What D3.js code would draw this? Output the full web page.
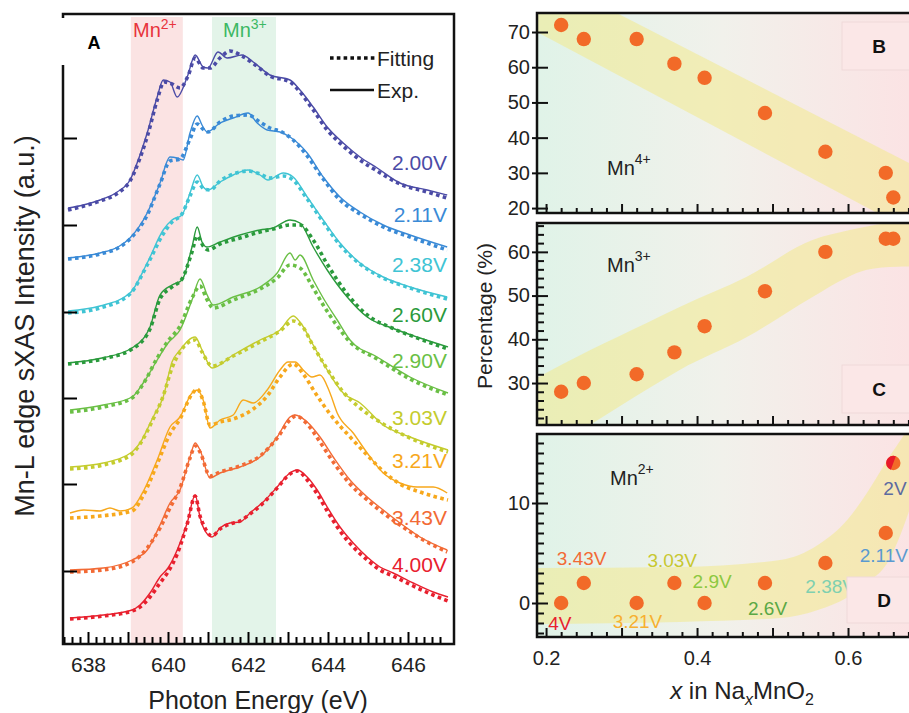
<!DOCTYPE html>
<html><head><meta charset="utf-8">
<script src="https://cdn.jsdelivr.net/npm/d3@7"></script>
<style>body{margin:0;background:#fff}svg{display:block}text{font-family:"Liberation Sans",Arial,Helvetica,sans-serif}</style>
</head><body><svg id="c" width="909" height="713"></svg>
<script>
// ---------------- DATA ----------------
const voltages = ['2.00V','2.11V','2.38V','2.60V','2.90V','3.03V','3.21V','3.43V','4.00V'];
const specColors = ['#4b4ba6','#3a8ad6','#40c4d4','#2a9a3c','#6abf45','#c4cc2e','#f7a81c','#f26a35','#e8202e'];
const energyTicks = [638,640,642,644,646];
const intensityTicks = [7.3,16.0,24.6,33.2,41.9,50.6];
const mn2Band = [639.07,640.37];
const mn3Band = [641.1,642.7];

const exp_200 = [[637.5,43.6],[637.88,43.9],[638.3,44.4],[638.73,45.2],[639.05,46.4],[639.3,48.9],[639.48,51.1],[639.73,54.7],[639.88,56.4],[640.05,56.2],[640.23,54.7],[640.48,56.7],[640.68,58.9],[640.88,57.7],[641.0,57.6],[641.25,59.2],[641.48,58.6],[641.85,58.9],[642.13,58.2],[642.55,56.9],[643.05,56.4],[643.3,55.4],[643.63,53.7],[643.98,51.7],[644.38,50.1],[644.8,48.7],[645.23,47.6],[645.8,46.1],[646.48,45.4],[646.98,44.9]];
const fit_200 = [[637.5,43.4],[637.9,43.8],[638.3,44.3],[638.75,45.1],[639.05,46.3],[639.3,48.6],[639.5,51.0],[639.73,54.4],[639.9,56.2],[640.1,56.0],[640.3,55.6],[640.5,56.8],[640.68,58.6],[640.88,57.6],[641.05,57.6],[641.3,58.6],[641.55,59.3],[641.85,58.8],[642.15,58.0],[642.55,56.8],[643.05,56.2],[643.3,55.2],[643.63,53.4],[643.98,51.4],[644.38,49.8],[644.8,48.4],[645.23,47.3],[645.8,46.0],[646.48,45.2],[646.98,44.6]];
const exp_211 = [[637.5,38.6],[638.3,39.1],[638.75,39.7],[639.05,40.6],[639.48,43.1],[639.8,46.1],[640.05,48.7],[640.23,48.6],[640.38,48.4],[640.55,51.1],[640.73,52.8],[640.85,51.9],[640.98,51.2],[641.3,52.1],[641.63,52.6],[642.0,53.1],[642.23,52.1],[642.48,51.4],[642.8,51.2],[643.05,50.7],[643.48,49.1],[643.88,46.7],[644.3,44.7],[644.8,43.2],[645.38,41.9],[646.05,40.9],[646.98,39.7]];
const fit_211 = [[637.5,38.5],[638.3,39.0],[638.75,39.6],[639.05,40.5],[639.48,42.9],[639.8,46.0],[640.05,48.3],[640.3,48.5],[640.55,50.5],[640.73,52.0],[640.9,51.4],[641.0,51.2],[641.3,52.2],[641.63,52.8],[642.0,52.9],[642.3,52.2],[642.55,51.6],[642.85,51.2],[643.1,50.5],[643.48,48.8],[643.88,46.5],[644.3,44.4],[644.8,43.0],[645.38,41.7],[646.05,40.7],[646.98,39.4]];
const exp_238 = [[637.5,33.3],[638.3,33.8],[639.05,35.1],[639.48,38.1],[639.88,41.4],[640.1,42.4],[640.35,42.9],[640.55,45.1],[640.73,46.9],[640.88,45.7],[641.0,45.4],[641.3,46.2],[641.63,46.9],[642.0,47.4],[642.3,46.9],[642.5,46.4],[642.88,47.1],[643.13,46.7],[643.48,44.7],[643.88,42.4],[644.3,40.1],[644.8,38.1],[645.38,36.7],[646.05,35.7],[646.98,34.7]];
const fit_238 = [[637.5,33.1],[638.3,33.6],[639.05,35.0],[639.48,37.9],[639.88,41.0],[640.1,42.2],[640.35,43.0],[640.55,44.8],[640.73,46.2],[640.9,45.5],[641.05,45.4],[641.3,46.3],[641.63,47.0],[642.0,47.3],[642.3,47.0],[642.55,46.6],[642.88,46.8],[643.13,46.4],[643.48,44.5],[643.88,42.2],[644.3,39.9],[644.8,38.0],[645.38,36.6],[646.05,35.6],[646.98,34.5]];
const exp_260 = [[637.5,28.1],[638.35,28.6],[639.1,29.6],[639.55,31.7],[639.8,34.9],[640.1,35.9],[640.35,36.4],[640.6,39.7],[640.73,41.7],[640.85,40.2],[640.97,39.7],[641.3,40.2],[641.8,40.9],[642.3,41.4],[642.63,41.6],[643.05,42.4],[643.3,42.1],[643.63,39.7],[643.98,37.4],[644.48,34.7],[644.98,32.7],[645.6,31.6],[646.3,30.6],[647.0,29.7]];
const fit_260 = [[637.5,28.0],[638.35,28.5],[639.1,29.5],[639.55,31.5],[639.8,34.5],[640.1,35.7],[640.35,36.5],[640.6,39.2],[640.73,40.8],[640.88,39.8],[641.0,39.4],[641.3,40.0],[641.8,40.6],[642.3,41.2],[642.63,41.5],[643.05,41.9],[643.3,41.9],[643.63,40.4],[643.98,38.0],[644.48,35.0],[644.98,32.9],[645.6,31.6],[646.3,30.5],[647.0,29.5]];
const exp_290 = [[637.55,23.4],[638.38,23.9],[639.1,24.7],[639.38,26.1],[639.73,28.4],[640.0,30.1],[640.3,31.4],[640.6,34.4],[640.8,36.5],[640.98,34.9],[641.13,33.9],[641.63,34.7],[642.3,35.7],[642.73,37.1],[643.05,39.1],[643.18,38.4],[643.3,38.9],[643.63,36.4],[643.88,34.6],[644.23,32.4],[644.55,30.4],[645.23,28.7],[646.05,26.7],[647.0,25.1]];
const fit_290 = [[637.55,23.2],[638.38,23.7],[639.1,24.6],[639.38,26.0],[639.73,28.6],[640.0,30.3],[640.3,31.8],[640.6,34.6],[640.8,35.8],[640.98,34.4],[641.13,33.6],[641.63,34.4],[642.3,35.5],[642.73,36.6],[643.05,37.9],[643.3,37.6],[643.63,35.6],[643.88,33.9],[644.23,31.8],[644.55,30.2],[645.23,28.5],[646.05,26.5],[647.0,24.9]];
const exp_303 = [[637.55,17.7],[638.38,18.1],[639.1,19.2],[639.3,20.1],[639.63,22.7],[639.88,24.7],[640.1,28.2],[640.3,29.4],[640.68,30.7],[640.85,29.4],[641.1,27.6],[641.63,28.9],[642.3,30.4],[642.8,31.4],[643.13,32.8],[643.3,32.2],[643.63,29.9],[643.98,27.4],[644.38,25.1],[644.8,24.1],[645.38,21.9],[646.05,20.7],[647.0,19.4]];
const fit_303 = [[637.55,17.5],[638.38,17.9],[639.1,19.0],[639.3,20.0],[639.63,22.5],[639.88,24.8],[640.1,27.6],[640.3,29.2],[640.68,30.4],[640.85,29.2],[641.1,27.8],[641.63,28.8],[642.3,30.2],[642.8,31.3],[643.13,32.3],[643.35,31.8],[643.63,29.8],[643.98,27.5],[644.38,25.2],[644.8,23.6],[645.38,22.0],[646.05,20.6],[647.0,19.2]];
const exp_321 = [[637.55,13.1],[637.9,13.4],[638.3,13.3],[638.55,13.6],[638.8,13.3],[639.1,13.6],[639.4,15.4],[639.73,18.4],[640.05,21.7],[640.3,22.7],[640.6,25.1],[640.73,25.4],[640.88,24.4],[641.05,21.6],[641.3,22.4],[641.63,22.9],[641.88,24.4],[642.13,24.1],[642.48,25.4],[642.8,27.4],[643.0,28.2],[643.18,28.2],[643.38,27.4],[643.6,26.7],[643.8,26.9],[644.05,25.1],[644.23,23.1],[644.63,21.1],[644.98,19.1],[645.38,17.1],[645.8,16.1],[646.23,15.7],[646.63,15.7],[646.98,15.1]];
const fit_321 = [[637.55,12.6],[638.3,12.8],[639.1,13.3],[639.4,15.0],[639.73,18.0],[640.05,21.0],[640.3,22.5],[640.6,25.0],[640.73,25.5],[640.88,24.3],[641.05,21.9],[641.3,22.2],[641.63,22.5],[642.13,23.5],[642.48,24.8],[642.8,26.7],[643.13,28.0],[643.38,27.0],[643.7,25.0],[644.05,23.0],[644.6,20.5],[645.0,18.8],[645.4,17.2],[645.8,16.0],[646.3,15.2],[647.0,14.4]];
const exp_343 = [[637.55,7.4],[638.38,7.6],[639.1,8.4],[639.48,9.4],[639.8,11.9],[640.05,14.1],[640.3,15.4],[640.55,18.7],[640.68,20.1],[640.8,19.4],[641.05,16.6],[641.3,17.1],[641.8,17.7],[642.3,18.7],[642.73,20.7],[643.05,22.7],[643.18,22.9],[643.48,22.2],[643.8,20.7],[644.13,18.7],[644.55,16.4],[644.98,14.7],[645.38,13.4],[645.8,12.1],[646.3,10.7],[646.98,9.4]];
const fit_343 = [[637.55,7.2],[638.38,7.4],[639.1,8.2],[639.48,9.6],[639.8,11.6],[640.05,13.6],[640.3,15.6],[640.55,18.6],[640.68,19.8],[640.8,19.2],[641.05,16.8],[641.3,17.2],[641.8,17.8],[642.3,18.8],[642.73,20.6],[643.05,22.4],[643.2,22.8],[643.48,22.0],[643.8,20.2],[644.13,18.2],[644.55,16.0],[644.98,14.4],[645.38,13.1],[645.8,11.9],[646.3,10.6],[646.98,9.2]];
const exp_400 = [[637.55,2.6],[638.38,2.9],[639.1,3.4],[639.3,3.9],[639.55,5.1],[639.8,6.7],[640.0,7.6],[640.23,9.4],[640.48,12.1],[640.68,14.9],[640.8,12.7],[640.88,11.7],[641.1,10.7],[641.3,11.6],[641.55,12.1],[641.8,12.2],[642.05,13.1],[642.38,14.2],[642.73,15.7],[643.05,17.1],[643.23,17.4],[643.48,16.7],[643.73,15.4],[643.98,13.7],[644.3,11.7],[644.63,10.1],[644.98,8.7],[645.3,7.7],[645.63,7.1],[646.13,6.1],[646.63,5.2],[647.0,4.7]];
const fit_400 = [[637.55,2.5],[638.38,2.8],[639.1,3.3],[639.3,3.7],[639.55,4.7],[639.8,6.1],[640.0,7.2],[640.23,9.0],[640.48,12.0],[640.68,14.8],[640.8,12.8],[640.9,11.8],[641.1,10.8],[641.3,11.5],[641.55,12.0],[641.8,12.3],[642.05,13.0],[642.38,14.1],[642.73,15.6],[643.05,17.0],[643.23,17.3],[643.48,16.4],[643.73,15.0],[643.98,13.3],[644.3,11.3],[644.63,9.7],[644.98,8.4],[645.3,7.4],[645.63,6.8],[646.13,5.8],[646.63,4.9],[647.0,4.3]];

const naX = [0.22,0.25,0.32,0.37,0.41,0.49,0.57,0.65,0.66];
const mn4Pct = [72,68,68,61,57,47,36,30,23];
const mn3Pct = [28,30,32,37,43,51,60,63,63];
const mn2Pct = [0,2,0,2,0,2,4,7,14];
const pointLabels = ['4V','3.43V','3.21V','3.03V','2.9V','2.6V','2.38V','2.11V','2V'];
const pointLabelColors = ['#e8202e','#f26a35','#f7b030','#c8c830','#8cc840','#5aa845','#7fd0b0','#5a9ad0','#5c6aa0'];
const naTicks = [0.2,0.4,0.6];
const ticksB = [20,30,40,50,60,70];
const ticksC = [30,40,50,60];
const ticksD = [0,10];
// band [x, lower, upper]
const bandB = [[0.18,70.9,87.9],[0.8,0.2,19.7]];
const bandC = [[0.18,12.1,30.5],[0.258,20.4,37.5],[0.334,28.6,43.8],[0.377,33.0,47.4],[0.466,40.5,54.3],[0.553,49.7,62.7],[0.598,54.1,64.8],[0.625,55.9,65.8],[0.665,56.6,66.8],[0.8,56.8,67.5]];
const bandD = [[0.18,-2.1,3.5],[0.377,-1.9,3.6],[0.51,-1.5,4.3],[0.56,-0.7,5.8],[0.6,0.6,8.4],[0.625,2.0,11.0],[0.652,4.0,14.3],[0.68,9.0,17.5],[0.72,20,23]];

// ---------------- DRAW ----------------
const svg = d3.select('#c');
const defs = svg.append('defs');
const F = '"Liberation Sans",Arial,Helvetica,sans-serif';

// ===== Panel A =====
const xA = d3.scaleLinear().domain([637.375, 647.15]).range([63, 454]);
const yA = d3.scaleLinear().domain([0, 63]).range([644, 14]);
defs.append('clipPath').attr('id','clipA').append('rect')
  .attr('x',63).attr('y',14).attr('width',391).attr('height',630);
const gA = svg.append('g');
gA.append('rect').attr('x',xA(mn2Band[0])).attr('y',17).attr('width',xA(mn2Band[1])-xA(mn2Band[0])).attr('height',627).attr('fill','#fbe3e3');
gA.append('rect').attr('x',xA(mn3Band[0])).attr('y',17).attr('width',xA(mn3Band[1])-xA(mn3Band[0])).attr('height',627).attr('fill','#e3f4e9');

const spectra = voltages.map((v,i)=>({v, color:specColors[i],
  exp:[exp_200,exp_211,exp_238,exp_260,exp_290,exp_303,exp_321,exp_343,exp_400][i],
  fit:[fit_200,fit_211,fit_238,fit_260,fit_290,fit_303,fit_321,fit_343,fit_400][i]}));
const lineA = d3.line().x(d=>xA(d[0])).y(d=>yA(d[1])).curve(d3.curveMonotoneX);
const gC = gA.append('g').attr('clip-path','url(#clipA)');
spectra.forEach(s=>{
  gC.append('path').attr('d',lineA(s.exp)).attr('fill','none').attr('stroke',s.color).attr('stroke-width',1.4);
  gC.append('path').attr('d',lineA(s.fit)).attr('fill','none').attr('stroke',s.color).attr('stroke-width',3.6).attr('stroke-dasharray','3.6,3.4');
  const last = s.exp[s.exp.length-1];
  gA.append('text').attr('x',447).attr('y',yA(last[1])-25).attr('text-anchor','end')
    .attr('font-size',21).attr('fill',s.color).text(s.v);
});

// axes A
const axA = gA.append('g').attr('transform','translate(0,644)')
  .call(d3.axisBottom(xA).tickValues(energyTicks).tickSize(-12).tickPadding(13).tickFormat(d3.format('d')));
const axAmin = gA.append('g').attr('transform','translate(0,644)')
  .call(d3.axisBottom(xA).tickValues(d3.range(637.4,647.1,0.2).filter(v=>Math.abs(v-Math.round(v))>0.05)).tickSize(-7).tickFormat(''));
const axAmid = gA.append('g').attr('transform','translate(0,644)')
  .call(d3.axisBottom(xA).tickValues([639,641,643,645]).tickSize(-12).tickFormat(''));
const axAy = gA.append('g').attr('transform','translate(63,0)')
  .call(d3.axisLeft(yA).tickValues(intensityTicks).tickSize(-14).tickFormat(''));
[axA,axAmin,axAmid,axAy].forEach(g=>{g.select('.domain').remove();g.selectAll('line').attr('stroke','#000').attr('stroke-width',2);
  g.selectAll('text').attr('font-size',21).attr('font-family',F).attr('fill','#222');});
gA.append('rect').attr('x',63).attr('y',14).attr('width',391).attr('height',630).attr('fill','none').attr('stroke','#111').attr('stroke-width',2.5);
// white label box covering frame
gA.append('rect').attr('x',61).attr('y',18).attr('width',69).attr('height',47).attr('fill','#fff');
gA.append('text').attr('x',94).attr('y',49).attr('text-anchor','middle').attr('font-size',18).attr('font-weight','bold').text('A');
// Mn band labels
const t2 = gA.append('text').attr('x',133).attr('y',37).attr('font-size',20).attr('fill','#e8333c');
t2.append('tspan').text('Mn'); t2.append('tspan').attr('font-size',14).attr('dy',-8).text('2+');
const t3 = gA.append('text').attr('x',223).attr('y',37).attr('font-size',20).attr('fill','#3cb864');
t3.append('tspan').text('Mn'); t3.append('tspan').attr('font-size',14).attr('dy',-8).text('3+');
// legend
gA.append('line').attr('x1',330).attr('x2',376).attr('y1',58).attr('y2',58).attr('stroke','#111').attr('stroke-width',3.6).attr('stroke-dasharray','3.6,3.2');
gA.append('text').attr('x',377).attr('y',66).attr('font-size',21).attr('fill','#222').text('Fitting');
gA.append('line').attr('x1',330).attr('x2',374).attr('y1',90).attr('y2',90).attr('stroke','#111').attr('stroke-width',2.5);
gA.append('text').attr('x',377).attr('y',98).attr('font-size',21).attr('fill','#222').text('Exp.');
// axis titles
svg.append('text').attr('x',258).attr('y',709).attr('text-anchor','middle').attr('font-size',25).attr('fill','#222').text('Photon Energy (eV)');
svg.append('text').attr('transform','translate(34,326) rotate(-90)').attr('text-anchor','middle').attr('font-size',27).attr('fill','#222').text('Mn-L edge sXAS Intensity (a.u.)');

// ===== Panels B, C, D =====
const xR = d3.scaleLinear().domain([0.188, 0.8]).range([537, 999]);
const grad = defs.append('linearGradient').attr('id','bg').attr('gradientUnits','userSpaceOnUse')
  .attr('x1',537).attr('x2',909).attr('y1',0).attr('y2',0);
grad.append('stop').attr('offset','0%').attr('stop-color','#e0f3e8');
grad.append('stop').attr('offset','50%').attr('stop-color','#f1f1eb');
grad.append('stop').attr('offset','100%').attr('stop-color','#fbe3e4');

const panels = [
  {id:'B', top:13, bot:213, dom:[18.6,75.4], vals:mn4Pct, band:bandB, ticks:ticksB, minor:[], ion:'4+', ionPos:[607,175], box:[842,22,48]},
  {id:'C', top:223, bot:425, dom:[20.4,66.6], vals:mn3Pct, band:bandC, ticks:ticksC, minor:d3.range(22,67,2), ion:'3+', ionPos:[607,272], box:[842,365,48]},
  {id:'D', top:434, bot:637, dom:[-3.4,16.9], vals:mn2Pct, band:bandD, ticks:ticksD, minor:d3.range(-3,17,1), ion:'2+', ionPos:[610,485], box:[847,577,46]}
];
const dLabelOff = [[-13,27],[-27,-18],[-24,25],[-27,-16],[-12,-15],[-17,32],[-20,30],[-26,29],[-10,32]];

panels.forEach(p=>{
  const y = d3.scaleLinear().domain(p.dom).range([p.bot,p.top]);
  const g = svg.append('g');
  defs.append('clipPath').attr('id','clip'+p.id).append('rect').attr('x',537).attr('y',p.top).attr('width',462).attr('height',p.bot-p.top);
  g.append('rect').attr('x',537).attr('y',p.top).attr('width',462).attr('height',p.bot-p.top).attr('fill','url(#bg)');
  const area = d3.area().x(d=>xR(d[0])).y0(d=>y(d[1])).y1(d=>y(d[2])).curve(p.id==='B'?d3.curveLinear:d3.curveMonotoneX);
  g.append('path').attr('d',area(p.band)).attr('fill','#f2ea8c').attr('opacity',0.55).attr('clip-path','url(#clip'+p.id+')');
  // ion label
  const t = g.append('text').attr('x',p.ionPos[0]).attr('y',p.ionPos[1]).attr('font-size',20).attr('fill','#222');
  t.append('tspan').text('Mn'); t.append('tspan').attr('font-size',14).attr('dy',-11).text(p.ion);
  // points
  naX.forEach((xv,i)=>{
    g.append('circle').attr('cx',xR(xv)).attr('cy',y(p.vals[i])).attr('r',7.2).attr('fill','#f26a28');
  });
  if(p.id==='D'){
    const i = naX.length-1;
    g.append('path').attr('transform',`translate(${xR(naX[i])},${y(p.vals[i])})`)
      .attr('d',d3.arc().innerRadius(0).outerRadius(7.2).startAngle(200*Math.PI/180).endAngle(380*Math.PI/180)())
      .attr('fill','#e8182a');
    naX.forEach((xv,k)=>{
      g.append('text').attr('x',xR(xv)+dLabelOff[k][0]).attr('y',y(p.vals[k])+dLabelOff[k][1])
        .attr('font-size',19).attr('fill',pointLabelColors[k]).text(pointLabels[k]);
    });
  }
  // label box
  g.append('rect').attr('x',p.box[0]).attr('y',p.box[1]).attr('width',80).attr('height',p.box[2])
    .attr('fill','#fbe7e7').attr('stroke','#efd9d9').attr('stroke-width',1);
  g.append('text').attr('x',p.box[0]+37).attr('y',p.box[1]+p.box[2]/2+7).attr('text-anchor','middle')
    .attr('font-size',19).attr('font-weight','bold').attr('fill','#111').text(p.id);
  // axes
  const ax1 = g.append('g').attr('transform','translate(537,0)')
    .call(d3.axisLeft(y).tickValues(p.ticks).tickSize(-11).tickPadding(7).tickFormat(d3.format('d')));
  const ax1o = g.append('g').attr('transform','translate(537,0)')
    .call(d3.axisLeft(y).tickValues(p.ticks).tickSize(5).tickFormat(''));
  const ax2 = g.append('g').attr('transform','translate(537,0)')
    .call(d3.axisLeft(y).tickValues(p.minor.filter(v=>!p.ticks.includes(v))).tickSize(-7).tickFormat(''));
  const ax3 = g.append('g').attr('transform',`translate(0,${p.bot})`)
    .call(d3.axisBottom(xR).tickValues([0.2,0.3,0.4,0.5,0.6,0.7]).tickSize(-9).tickPadding(14)
      .tickFormat(p.id==='D'?(d=>naTicks.some(t=>Math.abs(t-d)<1e-9)?d3.format('.1f')(d):''):''));
  const ax4 = g.append('g').attr('transform',`translate(0,${p.bot})`)
    .call(d3.axisBottom(xR).tickValues(d3.range(0.2,0.8,0.02).filter(v=>Math.abs(v*10-Math.round(v*10))>0.05)).tickSize(-5).tickFormat(''));
  [ax1,ax1o,ax2,ax3,ax4].forEach(a=>{a.select('.domain').remove();a.selectAll('line').attr('stroke','#111').attr('stroke-width',2);
    a.selectAll('text').attr('font-size',20).attr('font-family',F).attr('fill','#222');});
  g.append('rect').attr('x',537).attr('y',p.top).attr('width',462).attr('height',p.bot-p.top).attr('fill','none').attr('stroke','#111').attr('stroke-width',2.5);
});

svg.append('text').attr('transform','translate(492,316) rotate(-90)').attr('text-anchor','middle').attr('font-size',21).attr('fill','#222').text('Percentage (%)');
const xl = svg.append('text').attr('x',742).attr('y',699).attr('text-anchor','middle').attr('font-size',24).attr('fill','#222');
xl.append('tspan').attr('font-style','italic').text('x');
xl.append('tspan').text(' in Na');
xl.append('tspan').attr('font-style','italic').attr('font-size',16).attr('dy',6).text('x');
xl.append('tspan').attr('dy',-6).text('MnO');
xl.append('tspan').attr('font-size',16).attr('dy',6).text('2');
</script></body></html>
